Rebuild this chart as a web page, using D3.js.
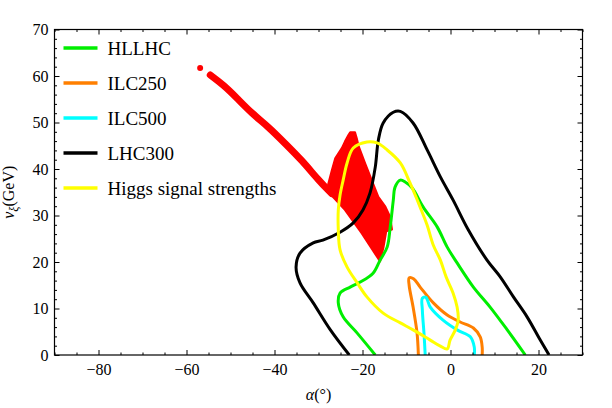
<!DOCTYPE html>
<html>
<head>
<meta charset="utf-8">
<script src="https://cdn.jsdelivr.net/npm/d3@7"></script>
<style>
	body { margin: 0; background: #fff; }
	svg { display: block; }
	.axis line { stroke: #000; }
	.axis path { display: none; }
	.axis text { font-family: "Liberation Serif", "DejaVu Serif", serif !important; font-size: 16px !important; fill: #000; }
	.lbl { font-family: "Liberation Serif", "DejaVu Serif", serif; fill: #000; }
</style>
</head>
<body>
<script>
// data: [alpha (deg), v_xi (GeV)]
var hllhc = [[-17.1,0],[-21.2,4.7],[-24.4,8.2],[-25.5,11.2],[-25.1,13.3],[-22.8,14.6],[-20.5,15.7],[-17.6,17.6],
	[-16.0,20.4],[-14.4,23.2],[-13.7,27.5],[-13.0,33.3],[-12.6,36.1],[-11.4,37.6],[-10.3,37.2],[-8.7,35.9],
	[-6.2,31.8],[-3.0,27.5],[-0.75,23.2],[1.5,19.8],[5.2,14.6],[9.0,10.3],[12.9,5.4],[17.0,0]];
var ilc250 = [[-7.3,0],[-7.6,4.7],[-8.5,10.3],[-9.4,15.0],[-9.4,16.6],[-8.4,16.4],[-6.9,14.6],[-3.9,11.2],
	[-0.75,8.6],[2.2,7.1],[5.2,5.8],[6.75,3.9],[7.2,1.7],[7.2,0]];
var ilc500 = [[-5.75,0],[-6.0,4.3],[-6.4,9.7],[-6.4,12.2],[-5.6,12.4],[-4.6,10.3],[-1.7,7.5],[1.5,5.4],
	[4.5,3.9],[5.4,1.7],[5.4,0]];
var lhc300 = [[-23.0,0],[-27.3,5.4],[-31.2,11.2],[-34.2,15.5],[-35.1,18.9],[-34.2,21.9],[-31.2,24.1],[-29.0,24.7],
	[-25.1,26.4],[-22.1,28.4],[-19.9,31.2],[-18.3,34.8],[-17.1,40.4],[-16.4,46.2],[-15.3,49.9],[-13.0,52.2],
	[-11.4,52.4],[-8.5,49.9],[-5.3,44.1],[-2.3,38.3],[0.6,33.3],[4.0,27.0],[8.3,20.4],[11.3,16.8],[14.3,12.5],
	[17.4,8.2],[20.4,3.2],[22.4,0]];
var higgs = [[-19.0,45.8],[-16.7,45.6],[-14.4,44.1],[-11.4,41.3],[-9.2,37.0],[-6.9,31.8],[-5.3,27.9],[-3.9,23.6],
	[-2.3,20.4],[-1.0,16.8],[0.6,13.3],[1.5,10.3],[1.75,7.5],[1.1,5.4],[-0.1,3.2],[-0.75,1.3],[-2.3,1.9],
	[-4.6,3.2],[-8.5,5.4],[-11.4,6.9],[-15.3,9.0],[-19.0,12.5],[-21.2,15.5],[-23.5,18.9],[-25.1,22.6],
	[-25.5,26.9],[-25.5,31.2],[-25.1,34.4],[-24.4,37.6],[-23.5,41.3],[-22.1,44.5]];
// red scan points: diagonal band and the dense wedge
var scanBand = [[-54.6,60.2],[-51.5,58.0],[-48.6,55.3],[-45.1,51.9],[-41.4,49.1],[-37.6,45.5],[-33.8,41.9],
	[-30.0,37.6],[-27.0,34.7]];
var scanDot = [[-56.9,61.7]];
var scanWedge = [[-27.8,35.1],[-27.8,36.7],[-27.0,39.6],[-26.2,42.3],[-24.7,44.5],[-24.0,45.9],[-23.2,47.3],
	[-22.8,47.9],[-21.7,47.9],[-21.3,46.6],[-20.9,45.0],[-19.4,41.2],[-17.9,37.6],[-16.4,34.0],[-14.8,31.9],
	[-13.7,29.7],[-13.3,27.0],[-14.6,26.6],[-15.2,23.3],[-16.0,20.1],[-20.2,26.2],[-24.0,31.2]];

var legendNames = ['HLLHC', 'ILC250', 'ILC500', 'LHC300', 'Higgs signal strengths'];
var legendColors = ['#00ee00', '#ff7f00', '#00ffff', '#000000', '#ffff00'];
var xTicks = [-80, -60, -40, -20, 0, 20];
var yTicks = [0, 10, 20, 30, 40, 50, 60, 70];

// chart
var margin = { top: 29.5, right: 29.5, bottom: 53, left: 54.5 };
var width = 612 - margin.left - margin.right;
var height = 408 - margin.top - margin.bottom;

var svg = d3.select('body')
	.append('svg')
	.attr('width', 612)
	.attr('height', 408)
	.append('g')
	.attr('transform', 'translate(' + margin.left + ',' + margin.top + ')');

svg.append('defs')
	.append('clipPath')
	.attr('id', 'clip')
	.append('rect')
	.attr('width', width)
	.attr('height', height);

var x = d3.scaleLinear().domain([-90, 30]).range([0, width]);
var y = d3.scaleLinear().domain([0, 70]).range([height, 0]);

var plot = svg.append('g').attr('clip-path', 'url(#clip)');

// red scan
plot.append('path')
	.datum(scanWedge)
	.attr('d', d3.line().x(d => x(d[0])).y(d => y(d[1])).curve(d3.curveLinearClosed))
	.attr('fill', '#ff0000')
	.attr('stroke', '#ff0000')
	.attr('stroke-width', 2)
	.attr('stroke-linejoin', 'round');
plot.append('path')
	.datum(scanBand)
	.attr('d', d3.line().x(d => x(d[0])).y(d => y(d[1])).curve(d3.curveBasis))
	.attr('fill', 'none')
	.attr('stroke', '#ff0000')
	.attr('stroke-width', 7)
	.attr('stroke-linecap', 'round');
plot.selectAll('.dot')
	.data(scanDot)
	.enter().append('circle')
	.attr('cx', d => x(d[0]))
	.attr('cy', d => y(d[1]))
	.attr('r', 3)
	.attr('fill', '#ff0000');

// contours
var openLine = d3.line().x(d => x(d[0])).y(d => y(d[1])).curve(d3.curveCatmullRom);
var closedLine = d3.line().x(d => x(d[0])).y(d => y(d[1])).curve(d3.curveCatmullRomClosed);

[[hllhc, 0], [ilc250, 1], [ilc500, 2], [lhc300, 3]].forEach(function (s) {
	plot.append('path')
		.datum(s[0])
		.attr('d', openLine)
		.attr('fill', 'none')
		.attr('stroke', legendColors[s[1]])
		.attr('stroke-width', 3);
});
plot.append('path')
	.datum(higgs)
	.attr('d', closedLine)
	.attr('fill', 'none')
	.attr('stroke', legendColors[4])
	.attr('stroke-width', 3);

// frame + ticks
var xMinor = d3.range(-90, 31, 5).filter(v => xTicks.indexOf(v) < 0);
var yMinor = d3.range(0, 71, 2).filter(v => v % 10 != 0);

function addAxis (axis, tx, ty) {
	return svg.append('g').attr('class', 'axis')
		.attr('transform', 'translate(' + tx + ',' + ty + ')')
		.call(axis);
}

addAxis(d3.axisBottom(x).tickValues(xTicks).tickSize(-5).tickPadding(9), 0, height);
addAxis(d3.axisBottom(x).tickValues(xMinor).tickSize(-2.5).tickFormat(''), 0, height);
addAxis(d3.axisTop(x).tickValues(xTicks).tickSize(-5).tickFormat(''), 0, 0);
addAxis(d3.axisTop(x).tickValues(xMinor).tickSize(-2.5).tickFormat(''), 0, 0);
addAxis(d3.axisLeft(y).tickValues(yTicks).tickSize(-5).tickPadding(6), 0, 0);
addAxis(d3.axisLeft(y).tickValues(yMinor).tickSize(-2.5).tickFormat(''), 0, 0);
addAxis(d3.axisRight(y).tickValues(yTicks).tickSize(-5).tickFormat(''), width, 0);
addAxis(d3.axisRight(y).tickValues(yMinor).tickSize(-2.5).tickFormat(''), width, 0);

svg.append('rect')
	.attr('width', width)
	.attr('height', height)
	.attr('fill', 'none')
	.attr('stroke', '#000')
	.attr('stroke-width', 1.2);

// axis labels
var xl = svg.append('text').attr('class', 'lbl')
	.attr('x', width / 2)
	.attr('y', height + 45)
	.attr('text-anchor', 'middle')
	.style('font-size', '16px');
xl.append('tspan').style('font-style', 'italic').text('α');
xl.append('tspan').text('(°)');

var yl = svg.append('text').attr('class', 'lbl')
	.attr('transform', 'translate(' + (-41) + ',' + (height / 2) + ') rotate(-90)')
	.attr('text-anchor', 'middle')
	.style('font-size', '16px');
yl.append('tspan').style('font-style', 'italic').text('v');
yl.append('tspan').attr('dy', 4).style('font-size', '12px').style('font-style', 'italic').text('ξ');
yl.append('tspan').attr('dy', -4).text('(GeV)');

// legend
var legend = svg.selectAll('.legend')
	.data(legendNames)
	.enter().append('g')
	.attr('transform', (d, i) => 'translate(0,' + (18.5 + i * 35) + ')');
legend.append('line')
	.attr('x1', 9).attr('x2', 43)
	.attr('stroke', (d, i) => legendColors[i])
	.attr('stroke-width', 3.5);
legend.append('text').attr('class', 'lbl')
	.attr('x', 53)
	.attr('y', 6.5)
	.style('font-size', '19px')
	.text(d => d);
</script>
</body>
</html>
